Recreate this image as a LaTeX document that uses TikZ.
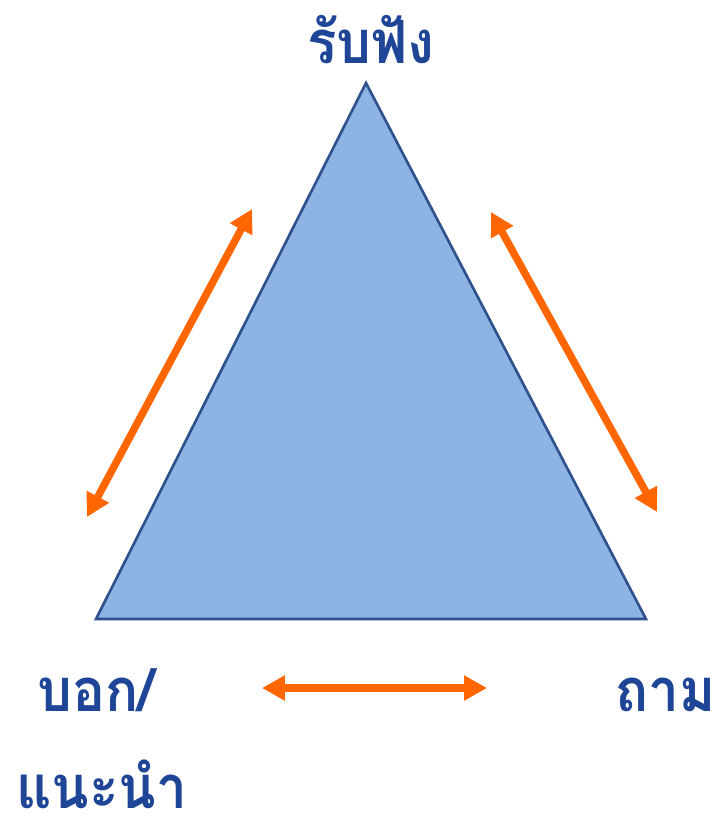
\documentclass[tikz,border=0pt]{standalone}
\usepackage{fontspec}
\usetikzlibrary{arrows.meta}
\newfontfamily\thaifont[Script=Thai,FakeStretch=0.92]{Loma}
\definecolor{triblue}{HTML}{8EB4E3}
\definecolor{edgeblue}{HTML}{2F528F}
\definecolor{textblue}{HTML}{1F4597}
\definecolor{arrorange}{HTML}{FF6600}

\begin{document}
\begin{tikzpicture}[x=0.02cm,y=-0.02cm,
    lbl/.style={font=\thaifont\bfseries\fontsize{34}{40}\selectfont,text=textblue,inner sep=0pt,text depth=0pt},
    twoway/.style={arrorange,line width=0.15cm,{Triangle[length=0.46cm,width=0.48cm]}-{Triangle[length=0.46cm,width=0.48cm]}}]
    \useasboundingbox (0,0) rectangle (722,822);
    \coordinate (top) at (366,83);
    \coordinate (bl) at (96,619);
    \coordinate (br) at (646,619);
    \filldraw[fill=triblue,draw=edgeblue,line width=1.5pt,line join=miter] (top) -- (bl) -- (br) -- cycle;
    \node[lbl,anchor=base] (listen) at (371,63) {รับฟัง};
    \node[lbl,anchor=base west] (tell) at (37,711) {บอก/};
    \node[lbl,anchor=base west] (advise) at (16,808) {แนะนำ};
    \node[lbl,anchor=base east] (ask) at (716,711) {ถาม};
    \coordinate (l1) at (252,209);
    \coordinate (l2) at (87,517);
    \coordinate (r1) at (491,212);
    \coordinate (r2) at (657,512);
    \coordinate (b1) at (262,688);
    \coordinate (b2) at (487,688);
    \draw[twoway] (l1) -- (l2);
    \draw[twoway] (r1) -- (r2);
    \draw[twoway] (b1) -- (b2);
\end{tikzpicture}
\end{document}
